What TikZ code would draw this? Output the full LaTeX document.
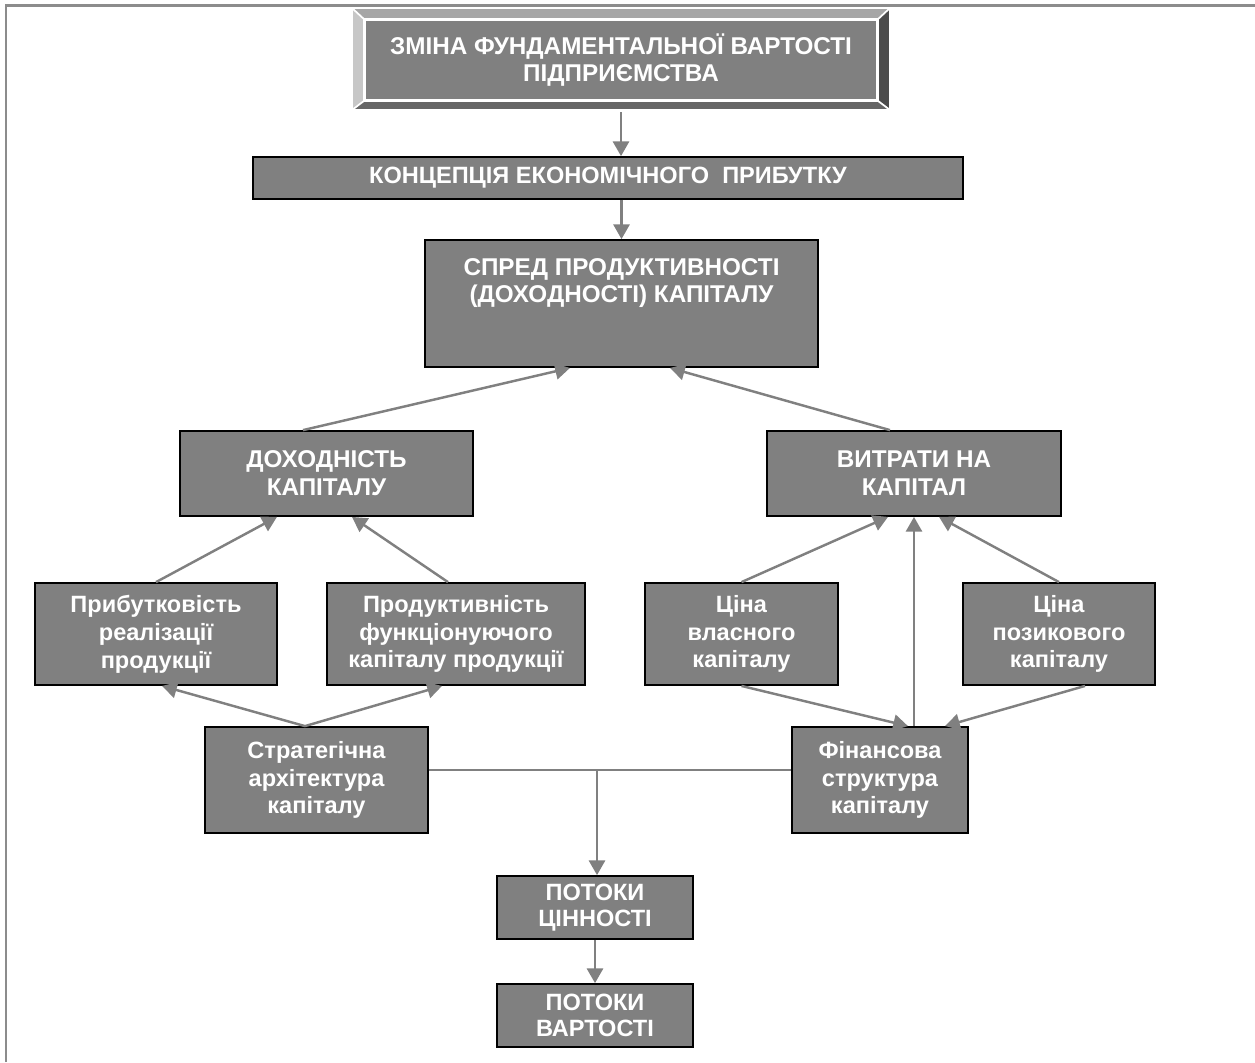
\documentclass[tikz,border=0pt]{standalone}
\usepackage{fontspec}
\setmainfont{Liberation Sans}
\usetikzlibrary{arrows.meta}

\definecolor{boxgray}{gray}{0.5}
\definecolor{linegray}{gray}{0.5}
\definecolor{framegray}{gray}{0.55}
\definecolor{bevtop}{gray}{0.65}
\definecolor{bevleft}{gray}{0.78}
\definecolor{bevright}{gray}{0.3}
\definecolor{bevbottom}{gray}{0.4}

\newcommand{\boxfont}{\fontsize{6.7}{7.9}\selectfont\bfseries}
\newcommand{\capsfont}{\fontsize{6.9}{7.9}\selectfont\bfseries}

\begin{document}
\begin{tikzpicture}[x=0.01cm,y=-0.01cm,
    every node/.style={draw=black, line width=0.5pt, fill=boxgray, text=white,
                       font=\boxfont, align=center, inner sep=0pt},
    caps/.style={font=\capsfont},
    plain/.style={draw=none, fill=none},
    link/.style={draw=linegray, line width=0.7pt},
    arr/.style={link, -{Triangle[length=4.2pt,width=4.6pt]}}]

    \useasboundingbox (0,0) rectangle (1255,1062);
    \draw[framegray, line width=0.85pt] (6,1062) -- (6,5) -- (1255,5);

    % bevelled title
    \coordinate (btl) at (352,8);
    \coordinate (btr) at (890,8);
    \coordinate (bbr) at (890,110);
    \coordinate (bbl) at (352,110);
    \node (face)[caps, draw=white, minimum width=5.12cm, minimum height=0.8cm]
        at (621,60) {ЗМІНА ФУНДАМЕНТАЛЬНОЇ ВАРТОСТІ\\ПІДПРИЄМСТВА};
    \fill[bevtop] (btl) -- (btr) -- (face.north east) -- (face.north west) -- cycle;
    \fill[bevleft] (btl) -- (face.north west) -- (face.south west) -- (bbl) -- cycle;
    \fill[bevright] (btr) -- (bbr) -- (face.south east) -- (face.north east) -- cycle;
    \fill[bevbottom] (bbl) -- (face.south west) -- (face.south east) -- (bbr) -- cycle;
    \draw[white, line width=0.5pt] (face.north west) rectangle (face.south east);
    \foreach \o/\i in {btl/north west, btr/north east, bbr/south east, bbl/south west}
      \draw[white, line width=0.5pt] (\o) -- (face.\i);
    \draw[white, line width=0.5pt] (btl) rectangle (bbr);

    \node (econ)  [minimum width=7.1cm, minimum height=0.42cm] at (608,178)
        {КОНЦЕПЦІЯ ЕКОНОМІЧНОГО \ ПРИБУТКУ};

    \node (spread)[minimum width=3.93cm, minimum height=1.27cm] at (621.5,303.5) {};
    \node (spreadtext)[caps, plain] at (621.5,283) {СПРЕД ПРОДУКТИВНОСТІ\\(ДОХОДНОСТІ) КАПІТАЛУ};

    \node (dokh)  [caps, minimum width=2.93cm, minimum height=0.85cm] at (326.5,473.5) {ДОХОДНІСТЬ\\КАПІТАЛУ};
    \node (vytr)  [caps, minimum width=2.94cm, minimum height=0.85cm] at (914,473.5)   {ВИТРАТИ НА\\КАПІТАЛ};

    \node (prib)  [minimum width=2.42cm, minimum height=1.02cm] at (156,634)    {Прибутковість\\реалізації\\продукції};
    \node (prod)  [minimum width=2.58cm, minimum height=1.02cm] at (456,634)    {Продуктивність\\функціонуючого\\капіталу продукції};
    \node (tsv)   [minimum width=1.93cm, minimum height=1.02cm] at (741.5,634)  {Ціна\\власного\\капіталу};
    \node (tsp)   [minimum width=1.92cm, minimum height=1.02cm] at (1059,634)   {Ціна\\позикового\\капіталу};

    \node (strat) [minimum width=2.23cm, minimum height=1.06cm] at (316.5,780)  {Стратегічна\\архітектура\\капіталу};
    \node (fin)   [minimum width=1.76cm, minimum height=1.06cm] at (880,780)    {Фінансова\\структура\\капіталу};

    \node (ptsin) [font=\fontsize{6.7}{7.2}\selectfont\bfseries, minimum width=1.96cm, minimum height=0.63cm] at (595,907.5)  {ПОТОКИ\\ЦІННОСТІ};
    \node (pvart) [font=\fontsize{6.7}{7.2}\selectfont\bfseries, minimum width=1.96cm, minimum height=0.63cm] at (595,1015.5) {ПОТОКИ\\ВАРТОСТІ};

    % connector ends
    \coordinate (titlefoot) at (621,112);
    \coordinate (econin)    at (titlefoot |- econ.north);
    \coordinate (econout)   at (spread.north |- econ.south);
    \coordinate (dokhout)   at ([xshift=-0.235cm]dokh.north);
    \coordinate (vytrout)   at ([xshift=-0.24cm]vytr.north);
    \coordinate (spreadinl) at ([xshift=-0.515cm]spread.south);
    \coordinate (spreadinr) at ([xshift=0.485cm]spread.south);
    \coordinate (dokhinl)   at ([xshift=-0.495cm]dokh.south);
    \coordinate (dokhinr)   at ([xshift=0.255cm]dokh.south);
    \coordinate (prodout)   at ([xshift=-0.08cm]prod.north);
    \coordinate (vytrinl)   at ([xshift=-0.26cm]vytr.south);
    \coordinate (vytrinr)   at ([xshift=0.25cm]vytr.south);
    \coordinate (finout)    at (vytr.south |- fin.north);
    \coordinate (stratout)  at ([xshift=-0.115cm]strat.north);
    \coordinate (pribin)    at ([xshift=0.06cm]prib.south);
    \coordinate (prodin)    at ([xshift=-0.14cm]prod.south);
    \coordinate (tspout)    at ([xshift=0.26cm]tsp.south);
    \coordinate (fininl)    at ([xshift=0.28cm]fin.north);
    \coordinate (fininr)    at ([xshift=0.65cm]fin.north);
    \coordinate (mid)       at (597,770);
    \coordinate (ptsinin)   at (mid |- ptsin.north);

    \foreach \from/\to in
      {titlefoot/econin, econout/spread.north,
       dokhout/spreadinl, vytrout/spreadinr,
       prib.north/dokhinl, prodout/dokhinr,
       tsv.north/vytrinl, finout/vytr.south, tsp.north/vytrinr,
       stratout/pribin, stratout/prodin,
       tsv.south/fininl, tspout/fininr,
       mid/ptsinin, ptsin.south/pvart.north}
    \draw[arr] (\from) -- (\to);

    \draw[link] (strat.east |- mid) -- (fin.west |- mid);
\end{tikzpicture}
\end{document}
